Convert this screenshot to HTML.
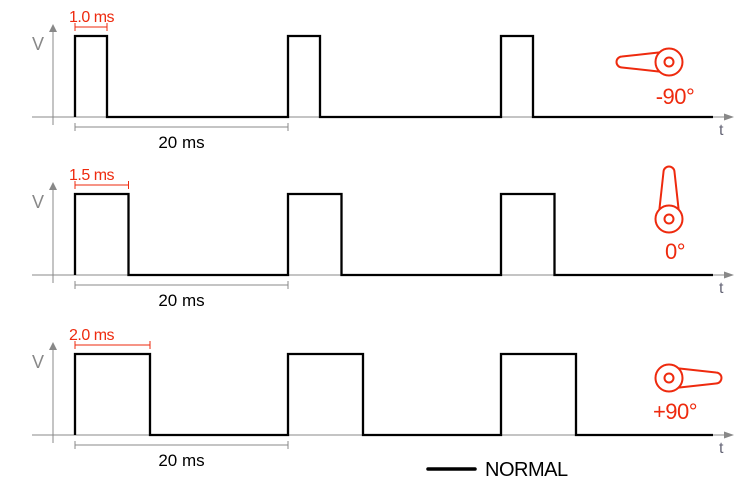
<!DOCTYPE html>
<html><head><meta charset="utf-8"><style>
html,body{margin:0;padding:0;background:#fff}
svg{display:block;font-family:"Liberation Sans",Arial,sans-serif}
</style></head><body>
<svg id="chart" width="755" height="500" viewBox="0 0 755 500"></svg>
<script>
const panelLabels = ["1.0 ms", "1.5 ms", "2.0 ms"];
const pulseWidthsMs = [1.0, 1.5, 2.0];
const periodMs = 20;
const pulseStartsMs = [0, 20, 40];
const signalEndMs = 60;
const angleLabels = ["-90°", "0°", "+90°"];
const armAnglesDeg = [180, 270, 0];
const baselines = [117, 275, 435];

const NS = "http://www.w3.org/2000/svg";
const svg = document.getElementById("chart");
function mk(tag, attrs, parent) {
  const e = document.createElementNS(NS, tag);
  for (const k in attrs) e.setAttribute(k, attrs[k]);
  (parent || svg).appendChild(e);
  return e;
}
const x0 = 75, pxPerMs = 213 / periodMs;
function xT(ms) { return x0 + ms * pxPerMs; }
function wPx(ms) { return 32 + (ms - 1) * 43; }
const RED = "#ee2a0e", GRAY = "#888";

baselines.forEach((by, i) => {
  const g = mk("g", {});
  
  
  const top = by - 81;
  const ya = mk("line", {x1: 53, y1: top - 10, x2: 53, y2: by + 8, stroke: GRAY, "stroke-width": 1}, g);
  
  
  mk("path", {d: `M49,${top - 4} L53,${top - 12} L57,${top - 4} Z`, fill: GRAY}, g);
  const xa = mk("line", {x1: 32, y1: by, x2: 725, y2: by, stroke: GRAY, "stroke-width": 1}, g);
  
  
  mk("path", {d: `M724,${by - 3.5} L734,${by} L724,${by + 3.5} Z`, fill: GRAY}, g);
  const vl = mk("text", {x: 32, y: top + 14, "font-size": 18, fill: GRAY}, g);
  vl.textContent = "V";
  
  
  const tl = mk("text", {x: 719, y: by + 18, "font-size": 16, fill: "#667"}, g);
  tl.textContent = "t";
  
  
  const w = wPx(pulseWidthsMs[i]);
  let d = `M${xT(pulseStartsMs[0])},${by}`;
  pulseStartsMs.forEach(s => {
    const xs = xT(s);
    d += ` L${xs},${by} L${xs},${top} L${xs + w},${top} L${xs + w},${by}`;
  });
  d += ` L${xT(signalEndMs) - 1},${by}`;
  const sig = mk("path", {d, fill: "none", stroke: "#000", "stroke-width": 2.3, "stroke-linejoin": "miter"}, g);
  
  
  const ry = top - 9;
  mk("path", {d: `M${x0},${ry - 4} V${ry + 4} M${x0},${ry} H${x0 + w} M${x0 + w},${ry - 4} V${ry + 4}`, stroke: RED, "stroke-width": 1, fill: "none"}, g);
  const rl = mk("text", {x: x0 - 6, y: ry - 5, "font-size": 16, fill: RED, "letter-spacing": "-0.5"}, g);
  rl.textContent = panelLabels[i];
  
  
  const py = by + 10, x1 = xT(pulseStartsMs[1]);
  mk("path", {d: `M${x0},${py - 4} V${py + 4} M${x0},${py} H${x1} M${x1},${py - 4} V${py + 4}`, stroke: GRAY, "stroke-width": 1, fill: "none"}, g);
  const pl = mk("text", {x: (x0 + x1) / 2, y: py + 21, "font-size": 17, fill: "#000", "text-anchor": "middle"}, g);
  pl.textContent = periodMs + " ms";
  
  
  const cx = 669, cy = [62, 219, 378][i];
  const ig = mk("g", {transform: `translate(${cx},${cy}) rotate(${armAnglesDeg[i]})`, fill: "none", stroke: RED, "stroke-width": 2}, g);
  
  
  mk("path", {d: "M6,-10 L47,-5.5 A5.5,5.5 0 0 1 47,5.5 L6,10", fill: "#fff"}, ig);
  mk("circle", {cx: 0, cy: 0, r: 13.5, fill: "#fff"}, ig);
  mk("circle", {cx: 0, cy: 0, r: 4.5}, ig);
  const al = mk("text", {x: 675, y: [104, 259, 419][i], "font-size": 22, fill: RED, "text-anchor": "middle", "letter-spacing": "-0.5"}, g);
  al.textContent = angleLabels[i];
  
  
});
const lg = mk("g", {});


mk("line", {x1: 428, y1: 469, x2: 475, y2: 469, stroke: "#000", "stroke-width": 3.5, "stroke-linecap": "round"}, lg);
const lt = mk("text", {x: 485, y: 476, "font-size": 20, fill: "#000", "letter-spacing": "-0.5"}, lg);
lt.textContent = "NORMAL";
</script>
</body></html>
